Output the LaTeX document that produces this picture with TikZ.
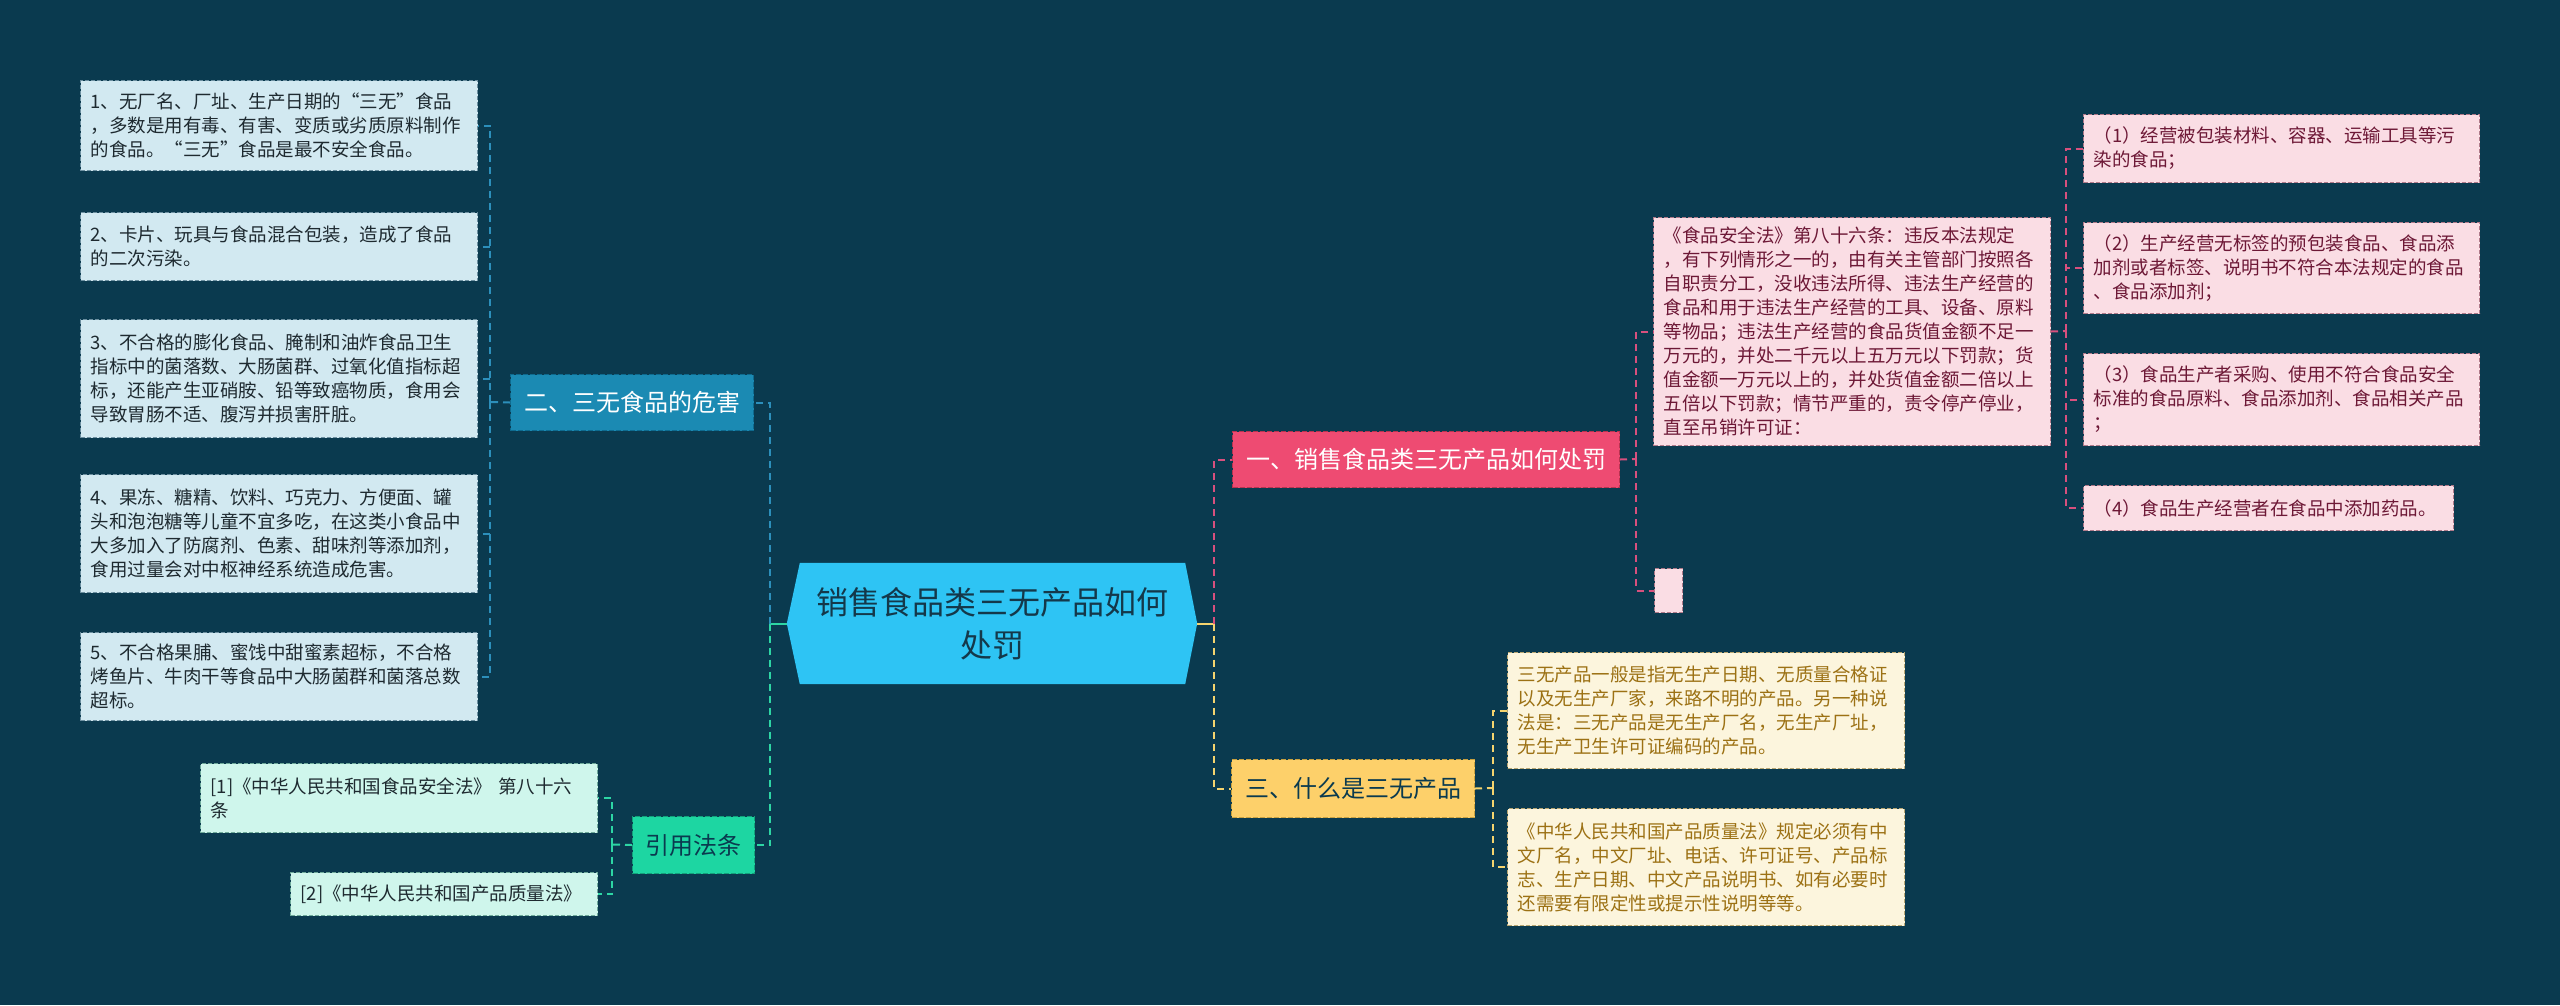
\documentclass[tikz,border=0pt]{standalone}
\usepackage{fontspec}
\setmainfont{Noto Sans CJK SC}
\usetikzlibrary{backgrounds}
\definecolor{bgc}{HTML}{0A3A4F}
\definecolor{ctrfill}{HTML}{2EC4F4}
\definecolor{ctrtext}{HTML}{14384A}
\definecolor{bluebr}{HTML}{1B8AB3}
\definecolor{bluebrd}{HTML}{0E6A8E}
\definecolor{pinkbr}{HTML}{EE4B72}
\definecolor{pinkbrd}{HTML}{B8324F}
\definecolor{yelbr}{HTML}{FDD06A}
\definecolor{yelbrd}{HTML}{C9A140}
\definecolor{grnbr}{HTML}{1DD6A2}
\definecolor{grnbrd}{HTML}{13A07A}
\definecolor{bleaf}{HTML}{D2E9F1}
\definecolor{bleafd}{HTML}{6C8FA0}
\definecolor{pleaf}{HTML}{FADDE4}
\definecolor{pleafd}{HTML}{B07A8A}
\definecolor{pleaft}{HTML}{6D1836}
\definecolor{yleaf}{HTML}{FCF5DD}
\definecolor{yleafd}{HTML}{B8A672}
\definecolor{yleaft}{HTML}{9C7114}
\definecolor{gleaf}{HTML}{CFF6EC}
\definecolor{gleafd}{HTML}{6EA99A}
\definecolor{darkt}{HTML}{1E2A30}
\definecolor{bconnc}{HTML}{2C8FBB}
\definecolor{gconnc}{HTML}{2DD6A4}
\definecolor{pconnc}{HTML}{D8507E}
\definecolor{yconnc}{HTML}{F5D46E}
\newcommand{\leaffont}{\fontsize{18.5}{24}\selectfont}
\newcommand{\brfont}{\fontsize{24}{30}\selectfont}
\newcommand{\ctrfont}{\fontsize{32}{43}\selectfont}
\tikzset{
  conn/.style={line width=2pt, dash pattern=on 7pt off 5pt},
  bconn/.style={conn, draw=bconnc},
  gconn/.style={conn, draw=gconnc},
  pconn/.style={conn, draw=pconnc},
  yconn/.style={conn, draw=yconnc},
  leafbox/.style={anchor=north west, draw, dash pattern=on 4pt off 2pt, line width=1pt,
    inner xsep=10pt, inner ysep=0pt, align=left, font=\leaffont},
  bluel/.style={leafbox, fill=bleaf, draw=bleafd, text=darkt},
  pinkl/.style={leafbox, fill=pleaf, draw=pleafd, text=pleaft},
  yell/.style={leafbox, fill=yleaf, draw=yleafd, text=yleaft},
  grnl/.style={leafbox, fill=gleaf, draw=gleafd, text=darkt},
  branch/.style={anchor=north west, draw, dash pattern=on 5pt off 2pt, line width=1pt,
    inner sep=0pt, align=center, font=\brfont},
}
\begin{document}
\begin{tikzpicture}[x=1pt, y=-1pt]
\useasboundingbox (0,0) rectangle (2560,1005);

% central topic
\node[font=\ctrfont, text=ctrtext, minimum width=385pt, minimum height=121pt, inner sep=0pt, align=center]
  (ctr) at (992.5,623.5) {销售食品类三无产品如何\\处罚};
\begin{scope}[on background layer]
  \fill[bgc] (0,0) rectangle (2560,1005);
  \fill[ctrfill] (ctr.north west) -- ([xshift=-13pt]ctr.west) -- (ctr.south west)
    -- (ctr.south east) -- ([xshift=12pt]ctr.east) -- (ctr.north east) -- cycle;
\end{scope}

% branches
\node[branch, fill=bluebr, draw=bluebrd, text=white, minimum width=243pt, minimum height=56pt]
  (n2) at (510,374) {二、三无食品的危害};
\node[branch, fill=grnbr, draw=grnbrd, text=bgc, minimum width=122pt, minimum height=57pt]
  (nref) at (632,816) {引用法条};
\node[branch, fill=pinkbr, draw=pinkbrd, text=white, minimum width=387pt, minimum height=56pt]
  (n1) at (1232,431) {一、销售食品类三无产品如何处罚};
\node[branch, fill=yelbr, draw=yelbrd, text=bgc, minimum width=243pt, minimum height=58pt]
  (n3) at (1231,759) {三、什么是三无产品};

% left leaves (blue)
\node[bluel, text width=377pt, minimum height=90pt] (l1) at (80,80)
  {1、无厂名、厂址、生产日期的“三无”食品\\，多数是用有毒、有害、变质或劣质原料制作\\的食品。“三无”食品是最不安全食品。};
\node[bluel, text width=377pt, minimum height=68pt] (l2) at (80,212)
  {2、卡片、玩具与食品混合包装，造成了食品\\的二次污染。};
\node[bluel, text width=377pt, minimum height=118pt] (l3) at (80,319)
  {3、不合格的膨化食品、腌制和油炸食品卫生\\指标中的菌落数、大肠菌群、过氧化值指标超\\标，还能产生亚硝胺、铅等致癌物质，食用会\\导致胃肠不适、腹泻并损害肝脏。};
\node[bluel, text width=377pt, minimum height=118pt] (l4) at (80,474)
  {4、果冻、糖精、饮料、巧克力、方便面、罐\\头和泡泡糖等儿童不宜多吃，在这类小食品中\\大多加入了防腐剂、色素、甜味剂等添加剂，\\食用过量会对中枢神经系统造成危害。};
\node[bluel, text width=377pt, minimum height=88pt] (l5) at (80,632)
  {5、不合格果脯、蜜饯中甜蜜素超标，不合格\\烤鱼片、牛肉干等食品中大肠菌群和菌落总数\\超标。};

% references (green)
\node[grnl, text width=377pt, minimum height=69pt] (r1) at (200,763)
  {[1]《中华人民共和国食品安全法》 第八十六\\条};
\node[grnl, text width=287pt, minimum height=43pt] (r2) at (290,872)
  {[2]《中华人民共和国产品质量法》};

% right: pink
\node[pinkl, text width=377pt, minimum height=228pt] (pbig) at (1653,217)
  {《食品安全法》第八十六条：违反本法规定\\，有下列情形之一的，由有关主管部门按照各\\自职责分工，没收违法所得、违法生产经营的\\食品和用于违法生产经营的工具、设备、原料\\等物品；违法生产经营的食品货值金额不足一\\万元的，并处二千元以上五万元以下罚款；货\\值金额一万元以上的，并处货值金额二倍以上\\五倍以下罚款；情节严重的，责令停产停业，\\直至吊销许可证：};
\node[pinkl, inner xsep=0pt, minimum width=28pt, minimum height=44pt] (pempty) at (1654,568) {};
\node[pinkl, text width=376pt, minimum height=68pt] (p1) at (2083,114)
  {（1）经营被包装材料、容器、运输工具等污\\染的食品；};
\node[pinkl, text width=376pt, minimum height=91pt] (p2) at (2083,222)
  {（2）生产经营无标签的预包装食品、食品添\\加剂或者标签、说明书不符合本法规定的食品\\、食品添加剂；};
\node[pinkl, text width=376pt, minimum height=92pt] (p3) at (2083,353)
  {（3）食品生产者采购、使用不符合食品安全\\标准的食品原料、食品添加剂、食品相关产品\\；};
\node[pinkl, text width=350pt, minimum height=45pt] (p4) at (2083,485)
  {（4）食品生产经营者在食品中添加药品。};

% right: yellow
\node[yell, text width=377pt, minimum height=116pt] (ya) at (1507,652)
  {三无产品一般是指无生产日期、无质量合格证\\以及无生产厂家，来路不明的产品。另一种说\\法是：三无产品是无生产厂名，无生产厂址，\\无生产卫生许可证编码的产品。};
\node[yell, text width=377pt, minimum height=117pt] (yb) at (1507,808)
  {《中华人民共和国产品质量法》规定必须有中\\文厂名，中文厂址、电话、许可证号、产品标\\志、生产日期、中文产品说明书、如有必要时\\还需要有限定性或提示性说明等等。};

% connectors from center
\coordinate (cL) at (770,623.5);
\coordinate (cR) at (1214,623.5);
\draw[line width=2pt, draw=gconnc] ([xshift=-13pt]ctr.west) -- (cL);
\draw[bconn] (cL) |- (n2.east);
\draw[gconn] (cL) |- (nref.east);
\draw[line width=2pt, draw=yconnc] ([xshift=12pt]ctr.east) -- (cR);
\draw[pconn] (cR) |- (n1.west);
\draw[yconn] (cR) |- (n3.west);

% 二 -> leaves
\coordinate (b2) at (490,402);
\draw[bconn] (n2.west) -- (b2);
\foreach \l in {l1,l2,l3,l4,l5} \draw[bconn] (b2) |- (\l.east);

% 引用法条 -> refs
\coordinate (bR) at (612,844.5);
\draw[gconn] (nref.west) -- (bR);
\foreach \l in {r1,r2} \draw[gconn] (bR) |- (\l.east);

% 一 -> children
\coordinate (b1) at (1636,459);
\draw[pconn] (n1.east) -- (b1);
\foreach \l in {pbig,pempty} \draw[pconn] (b1) |- (\l.west);
\coordinate (bP) at (2066,331);
\draw[pconn] (pbig.east) -- (bP);
\foreach \l in {p1,p2,p3,p4} \draw[pconn] (bP) |- (\l.west);

% 三 -> children
\coordinate (b3) at (1493,788);
\draw[yconn] (n3.east) -- (b3);
\foreach \l in {ya,yb} \draw[yconn] (b3) |- (\l.west);
\end{tikzpicture}
\end{document}
